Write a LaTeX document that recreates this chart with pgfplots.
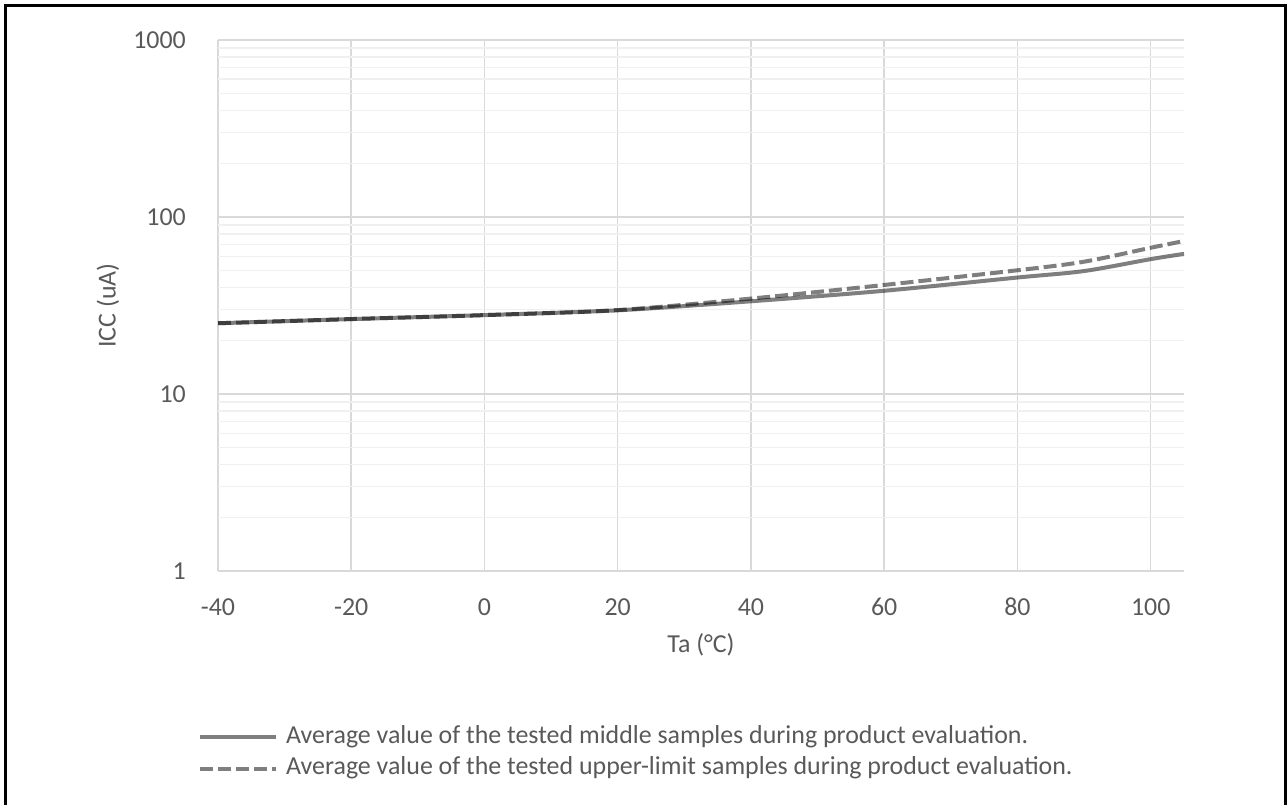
\documentclass[border=0pt]{standalone}
\usepackage{fontspec}
\setmainfont{Carlito}
\usepackage{pgfplots}
\pgfplotsset{compat=1.18}
\definecolor{gridmaj}{HTML}{D9D9D9}
\definecolor{gridmin}{HTML}{F0F0F0}
\definecolor{txt}{HTML}{595959}
\begin{document}
\begin{tikzpicture}[x=1bp,y=1bp]
\path[use as bounding box] (0,0) rectangle (1288,805);
\draw[line width=3bp] (5.5,0) -- (5.5,799.5) -- (1285.5,799.5) -- (1285.5,0);
\begin{axis}[
  at={(218bp,234bp)}, anchor=south west,
  scale only axis, width=966bp, height=531bp,
  xmin=-40, xmax=105, ymode=log, ymin=1, ymax=1000,
  xtick={-40,-20,0,20,40,60,80,100},
  ytick={1,10,100,1000}, yticklabels={1,10,100,1000},
  xmajorgrids, ymajorgrids, yminorgrids,
  major grid style={draw=gridmaj, line width=1.5bp},
  minor grid style={draw=gridmin, line width=1.5bp},
  axis line style={draw=none},
  major tick length=0pt, minor tick length=0pt,
  tick style={draw=none},
  /pgf/number format/assume math mode=true,
  ticklabel style={font=\fontsize{26}{30}\selectfont, text=txt},
  yticklabel style={inner sep=0pt, anchor=east, xshift=-32bp},
  xticklabel style={inner sep=0pt, anchor=center, yshift=-36bp},
  xlabel={Ta (°C)}, ylabel={ICC (uA)},
  label style={font=\fontsize{26}{30}\selectfont, text=txt},
  xlabel style={at={(axis description cs:0.5,0)}, anchor=center, yshift=-74bp},
  ylabel style={at={(axis description cs:-0.1139,0.5)}, anchor=center, rotate=0},
  legend style={at={(axis description cs:-0.0207,-0.3013)}, anchor=north west,
    draw=none, fill=none, inner sep=0pt, row sep=19.5bp, column sep=0bp,
    font=\fontsize{26}{30}\selectfont, text=txt,
    nodes={inner sep=0pt, anchor=west, text height=12bp, text depth=0bp}},
  legend cell align=left,
  legend image code/.code={\draw[#1] (0bp,0bp) -- (76bp,0bp);},
]
\addplot[black, draw opacity=0.5, line width=4bp, smooth, tension=0.5] coordinates {
(-40,25.1) (-20,26.5) (0,27.9) (20,29.7) (40,33.4) (60,38.3) (80,45.5) (90,49.5) (100,57.8) (105,61.9)};
\addlegendentry{\hspace{8bp}Average value of the tested middle samples during product evaluation.}
\addplot[black, draw opacity=0.5, line width=4bp, dash pattern=on 13bp off 5bp, smooth, tension=0.5] coordinates {
(-40,25.1) (-20,26.5) (0,27.9) (20,29.8) (40,34.6) (60,41.3) (80,50.0) (90,55.9) (100,67.0) (105,73.2)};
\addlegendentry{\hspace{8bp}Average value of the tested upper-limit samples during product evaluation.}
\end{axis}
\end{tikzpicture}
\end{document}
